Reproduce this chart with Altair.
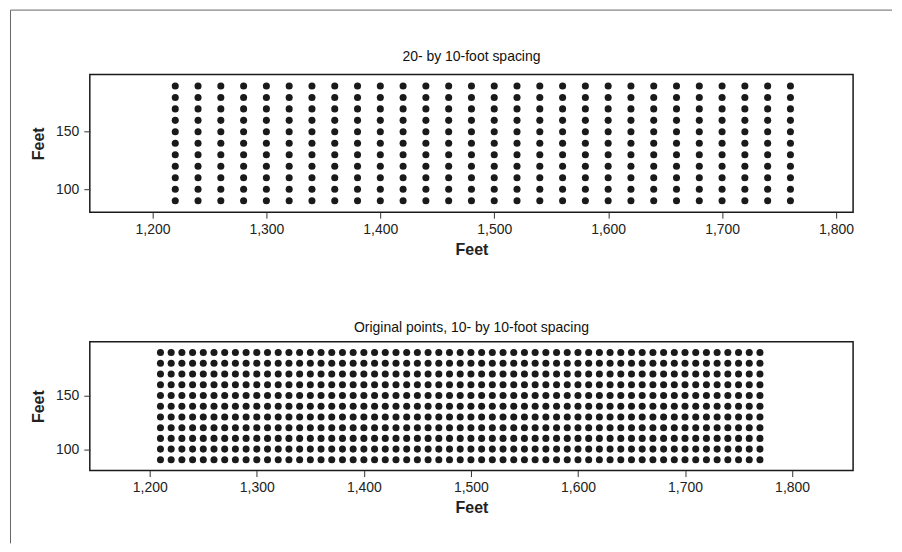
import altair as alt
import pandas as pd

# Top panel: 20- by 10-foot spacing
top_x = [1220, 1240, 1260, 1280, 1300, 1320, 1340, 1360, 1380, 1400, 1420, 1440, 1460, 1480,
         1500, 1520, 1540, 1560, 1580, 1600, 1620, 1640, 1660, 1680, 1700, 1720, 1740, 1760]
# Bottom panel: original points, 10- by 10-foot spacing
bot_x = [1210, 1220, 1230, 1240, 1250, 1260, 1270, 1280, 1290, 1300, 1310, 1320, 1330, 1340,
         1350, 1360, 1370, 1380, 1390, 1400, 1410, 1420, 1430, 1440, 1450, 1460, 1470, 1480,
         1490, 1500, 1510, 1520, 1530, 1540, 1550, 1560, 1570, 1580, 1590, 1600, 1610, 1620,
         1630, 1640, 1650, 1660, 1670, 1680, 1690, 1700, 1710, 1720, 1730, 1740, 1750, 1760,
         1770]
rows_y = [90, 100, 110, 120, 130, 140, 150, 160, 170, 180, 190]

y_ticks = [100, 150]
x_ticks = [1200, 1300, 1400, 1500, 1600, 1700, 1800]

top_title = "20- by 10-foot spacing"
bot_title = "Original points, 10- by 10-foot spacing"

top_df = pd.DataFrame([{"x": x, "y": y} for x in top_x for y in rows_y])
bot_df = pd.DataFrame([{"x": x, "y": y} for x in bot_x for y in rows_y])

FONT = "Liberation Sans"
W = 765


def x_axis():
    return alt.Axis(values=x_ticks, format=",d", title="Feet", grid=False, domain=False,
                    tickSize=6, tickColor="#333", labelPadding=4, labelFontSize=14,
                    labelColor="#222", labelFont=FONT, titleFont=FONT, titleFontSize=16,
                    titleFontWeight="bold", titleColor="#222", titlePadding=5)


def y_axis():
    return alt.Axis(values=y_ticks, format=",d", title="Feet", grid=False, domain=False,
                    tickSize=6, tickColor="#333", labelPadding=5, labelFontSize=14,
                    labelColor="#222", labelFont=FONT, titleFont=FONT, titleFontSize=16,
                    titleFontWeight="bold", titleColor="#222", titlePadding=9)


def points(df, xdom, height):
    return alt.Chart(df).mark_point(filled=True, shape="circle", size=50, color="#1a1a1a",
                                     opacity=1).encode(
        x=alt.X("x:Q", scale=alt.Scale(domain=xdom, nice=False, zero=False), axis=x_axis()),
        y=alt.Y("y:Q", scale=alt.Scale(domain=[80, 200], nice=False, zero=False), axis=y_axis()),
    ).properties(width=W, height=height)


one = pd.DataFrame({"label": [top_title]})
frame_top = alt.Chart(one).mark_rule(color="#666", strokeWidth=1).encode(
    x=alt.value(-79.5), x2=alt.value(804), y=alt.value(-64.5))
frame_left = alt.Chart(one).mark_rule(color="#666", strokeWidth=1).encode(
    x=alt.value(-79.5), y=alt.value(-64.5), y2=alt.value(470))
top_title_mark = alt.Chart(one).mark_text(
    font=FONT, fontSize=14, color="#111", align="center", baseline="middle"
).encode(text="label:N", x=alt.value(W / 2), y=alt.value(-17))

top = alt.layer(points(top_df, [1145, 1815], 138), top_title_mark, frame_top, frame_left)
bottom = points(bot_df, [1144, 1857], 129).properties(
    title=alt.TitleParams(bot_title, fontSize=14, font=FONT, fontWeight="normal",
                          color="#111", offset=7))

chart = alt.vconcat(top, bottom, spacing=130, bounds="flush").properties(
    padding={"left": 1, "top": 0, "right": 0, "bottom": 0}, background="white"
).configure_view(stroke="#1a1a1a", strokeWidth=1.5)

chart.save("out.html", embed_options={"renderer": "svg", "actions": False})
